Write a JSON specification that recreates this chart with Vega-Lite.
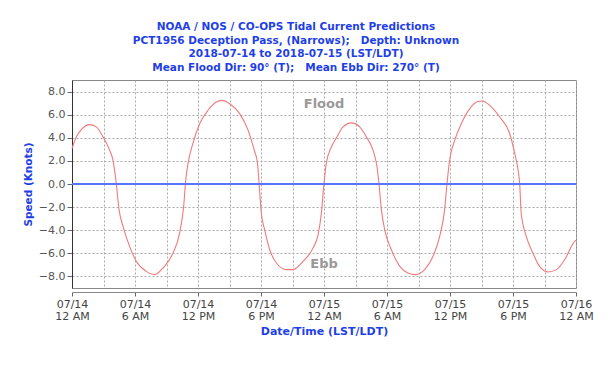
{
  "$schema": "https://vega.github.io/schema/vega-lite/v6.json",
  "autosize": {"type": "none"},
  "width": 504,
  "height": 208,
  "padding": {"left": 72, "top": 80, "right": 40, "bottom": 79},
  "background": "white",
  "config": {
    "view": {"stroke": "#888888", "strokeWidth": 1},
    "font": "DejaVu Sans",
    "axisY": {"labelOverlap": false}
  },
  "title": {
    "text": [
      "NOAA / NOS / CO-OPS Tidal Current Predictions",
      "PCT1956 Deception Pass, (Narrows);\u00a0\u00a0\u00a0Depth: Unknown",
      "2018-07-14 to 2018-07-15 (LST/LDT)",
      "Mean Flood Dir: 90° (T);\u00a0\u00a0\u00a0Mean Ebb Dir: 270° (T)"
    ],
    "font": "DejaVu Sans",
    "fontSize": 10.5,
    "fontWeight": "bold",
    "color": "#1f3fe6",
    "lineHeight": 13.5,
    "anchor": "middle",
    "dx": -28,
    "offset": 7
  },
  "datasets": {
    "current": [
      {"time": "2018-07-14T00:00", "speed": 3.07},
      {"time": "2018-07-14T00:25", "speed": 4.08},
      {"time": "2018-07-14T00:53", "speed": 4.71},
      {"time": "2018-07-14T01:41", "speed": 5.14},
      {"time": "2018-07-14T02:19", "speed": 4.94},
      {"time": "2018-07-14T02:57", "speed": 4.08},
      {"time": "2018-07-14T03:35", "speed": 2.93},
      {"time": "2018-07-14T03:54", "speed": 2.07},
      {"time": "2018-07-14T04:13", "speed": 0.06},
      {"time": "2018-07-14T04:29", "speed": -2.24},
      {"time": "2018-07-14T04:52", "speed": -3.68},
      {"time": "2018-07-14T05:29", "speed": -5.4},
      {"time": "2018-07-14T06:08", "speed": -6.7},
      {"time": "2018-07-14T07:05", "speed": -7.56},
      {"time": "2018-07-14T07:52", "speed": -7.84},
      {"time": "2018-07-14T08:40", "speed": -7.27},
      {"time": "2018-07-14T09:37", "speed": -5.98},
      {"time": "2018-07-14T10:15", "speed": -4.25},
      {"time": "2018-07-14T10:38", "speed": -1.95},
      {"time": "2018-07-14T10:50", "speed": 0.34},
      {"time": "2018-07-14T11:03", "speed": 1.78},
      {"time": "2018-07-14T11:31", "speed": 3.51},
      {"time": "2018-07-14T12:10", "speed": 5.23},
      {"time": "2018-07-14T12:57", "speed": 6.38},
      {"time": "2018-07-14T13:45", "speed": 7.1},
      {"time": "2018-07-14T14:17", "speed": 7.24},
      {"time": "2018-07-14T15:01", "speed": 6.95},
      {"time": "2018-07-14T15:58", "speed": 6.09},
      {"time": "2018-07-14T16:46", "speed": 4.66},
      {"time": "2018-07-14T17:24", "speed": 2.79},
      {"time": "2018-07-14T17:39", "speed": 1.93},
      {"time": "2018-07-14T17:49", "speed": 0.06},
      {"time": "2018-07-14T18:02", "speed": -2.53},
      {"time": "2018-07-14T18:21", "speed": -3.97},
      {"time": "2018-07-14T18:50", "speed": -5.69},
      {"time": "2018-07-14T19:28", "speed": -6.84},
      {"time": "2018-07-14T20:25", "speed": -7.41},
      {"time": "2018-07-14T21:03", "speed": -7.41},
      {"time": "2018-07-14T22:00", "speed": -6.7},
      {"time": "2018-07-14T22:57", "speed": -5.55},
      {"time": "2018-07-14T23:26", "speed": -4.4},
      {"time": "2018-07-14T23:45", "speed": -2.53},
      {"time": "2018-07-15T00:00", "speed": 0.06},
      {"time": "2018-07-15T00:13", "speed": 1.78},
      {"time": "2018-07-15T00:42", "speed": 3.2},
      {"time": "2018-07-15T01:11", "speed": 4.0},
      {"time": "2018-07-15T01:49", "speed": 4.94},
      {"time": "2018-07-15T02:37", "speed": 5.29},
      {"time": "2018-07-15T03:24", "speed": 4.94},
      {"time": "2018-07-15T04:02", "speed": 4.08},
      {"time": "2018-07-15T04:40", "speed": 2.93},
      {"time": "2018-07-15T05:03", "speed": 1.49},
      {"time": "2018-07-15T05:14", "speed": 0.06},
      {"time": "2018-07-15T05:28", "speed": -2.24},
      {"time": "2018-07-15T05:47", "speed": -3.97},
      {"time": "2018-07-15T06:25", "speed": -5.69},
      {"time": "2018-07-15T07:13", "speed": -7.13},
      {"time": "2018-07-15T08:00", "speed": -7.7},
      {"time": "2018-07-15T08:44", "speed": -7.84},
      {"time": "2018-07-15T09:35", "speed": -7.41},
      {"time": "2018-07-15T10:23", "speed": -6.26},
      {"time": "2018-07-15T11:01", "speed": -4.54},
      {"time": "2018-07-15T11:29", "speed": -2.24},
      {"time": "2018-07-15T11:43", "speed": 0.06},
      {"time": "2018-07-15T11:58", "speed": 2.07},
      {"time": "2018-07-15T12:27", "speed": 3.79},
      {"time": "2018-07-15T13:05", "speed": 5.23},
      {"time": "2018-07-15T13:53", "speed": 6.52},
      {"time": "2018-07-15T14:31", "speed": 7.1},
      {"time": "2018-07-15T15:05", "speed": 7.18},
      {"time": "2018-07-15T15:47", "speed": 6.81},
      {"time": "2018-07-15T16:44", "speed": 5.8},
      {"time": "2018-07-15T17:41", "speed": 4.37},
      {"time": "2018-07-15T18:10", "speed": 2.64},
      {"time": "2018-07-15T18:29", "speed": 1.21},
      {"time": "2018-07-15T18:38", "speed": 0.06},
      {"time": "2018-07-15T18:47", "speed": -2.53},
      {"time": "2018-07-15T19:16", "speed": -4.54},
      {"time": "2018-07-15T19:54", "speed": -5.98},
      {"time": "2018-07-15T20:32", "speed": -7.13},
      {"time": "2018-07-15T21:20", "speed": -7.61},
      {"time": "2018-07-15T22:08", "speed": -7.41},
      {"time": "2018-07-15T22:55", "speed": -6.55},
      {"time": "2018-07-15T23:52", "speed": -4.97},
      {"time": "2018-07-16T00:00", "speed": -4.85}
    ],
    "labels": [
      {"time": "2018-07-15T00:00", "speed": 6.9, "label": "Flood"},
      {"time": "2018-07-15T00:00", "speed": -6.9, "label": "Ebb"}
    ]
  },
  "layer": [
    {
      "data": {"name": "current"},
      "mark": {"type": "line", "color": "#f07a7a", "strokeWidth": 1.1, "interpolate": "monotone"},
      "encoding": {
        "x": {
          "field": "time",
          "type": "temporal",
          "scale": {"nice": false},
          "axis": {
            "tickCount": 16,
            "labelExpr": "hours(datum.value) % 6 == 0 ? [timeFormat(datum.value, '%m/%d'), (hours(datum.value) % 12 == 0 ? '12' : '' + (hours(datum.value) % 12)) + (hours(datum.value) < 12 ? ' AM' : ' PM')] : ''",
            "labelLineHeight": 12,
            "labelFontSize": 11,
            "labelColor": "#444444",
            "labelPadding": 2,
            "labelFlush": false,
            "labelOverlap": false,
            "tickSize": 4,
            "tickColor": "#666666",
            "tickOpacity": {"condition": {"test": "hours(datum.value) % 6 != 0", "value": 0}, "value": 1},
            "domainColor": "#888888",
            "offset": 4,
            "grid": true,
            "gridColor": "#aaaaaa",
            "gridDash": [2, 2],
            "gridWidth": 1,
            "title": "Date/Time (LST/LDT)",
            "titleColor": "#1f3fe6",
            "titleFontSize": 11,
            "titleFontWeight": "bold",
            "titlePadding": 4
          }
        },
        "y": {
          "field": "speed",
          "type": "quantitative",
          "scale": {"domain": [-9, 9], "nice": false},
          "axis": {
            "values": [-8, -6, -4, -2, 0, 2, 4, 6, 8],
            "tickCount": 9,
            "format": ".1f",
            "labelFontSize": 11,
            "labelColor": "#555555",
            "labelPadding": 2,
            "labelOverlap": false,
            "tickSize": 5,
            "tickColor": "#666666",
            "domainColor": "#333333",
            "grid": true,
            "gridColor": "#aaaaaa",
            "gridDash": [2, 2],
            "title": "Speed (Knots)",
            "titleColor": "#1f3fe6",
            "titleFontSize": 10.5,
            "titleFontWeight": "bold",
            "titlePadding": 5
          }
        }
      }
    },
    {
      "data": {"name": "current"},
      "mark": {"type": "rule", "color": "#5a74ff", "strokeWidth": 0.9},
      "encoding": {
        "y": {"datum": 0, "type": "quantitative"}
      }
    },
    {
      "data": {"name": "labels"},
      "mark": {"type": "text", "color": "#999999", "fontSize": 13, "fontWeight": "bold", "font": "DejaVu Sans"},
      "encoding": {
        "x": {"field": "time", "type": "temporal"},
        "y": {"field": "speed", "type": "quantitative"},
        "text": {"field": "label"}
      }
    }
  ]
}
